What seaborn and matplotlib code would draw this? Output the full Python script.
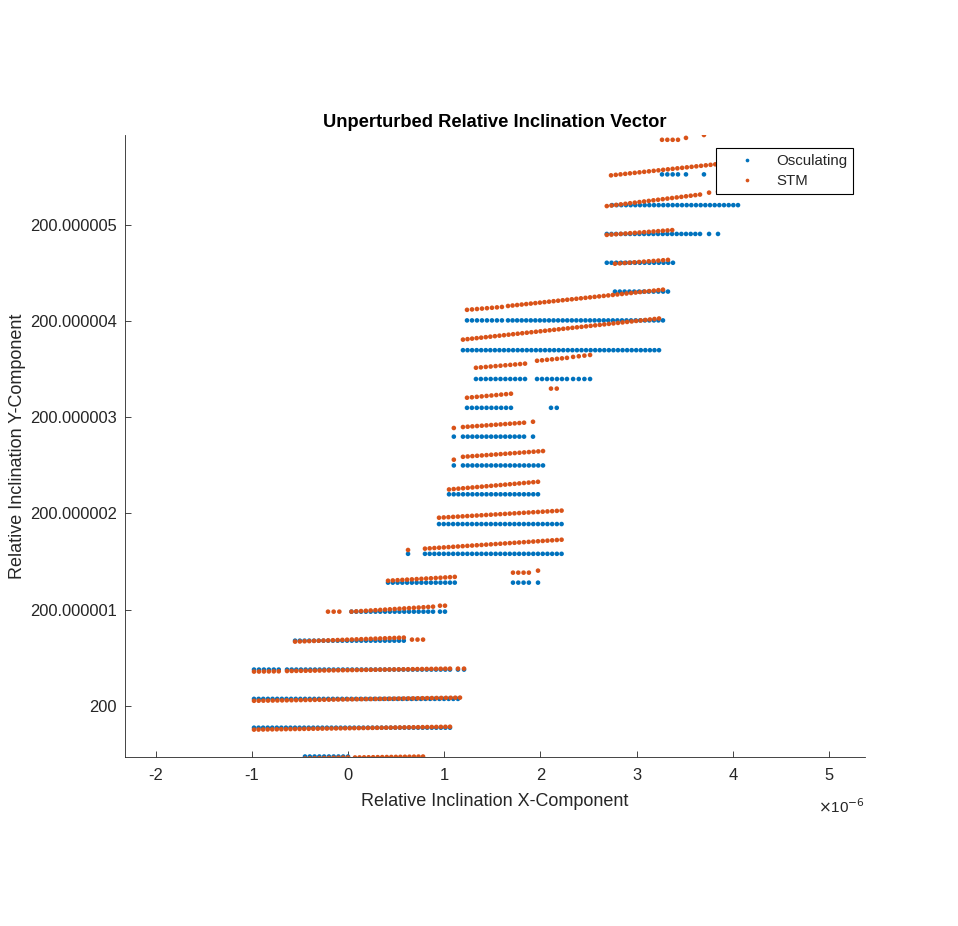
import numpy as np
import pandas as pd
import matplotlib
matplotlib.use("Agg")
import matplotlib.pyplot as plt
import seaborn as sns

# units: x in 1e-6, y as offset from 200 in 1e-6
# Osculating rows: start x, end x, level y, number of samples
osc_x0 = [-0.447, -0.977, -0.977, -0.977, -0.634, 1.143, -0.55, 0.036, 0.956, 0.416,
          1.715, 1.975, 0.624, 0.80, 0.946, 1.05, 1.10, 1.195, 1.10, 1.195,
          1.923, 1.237, 2.11, 1.33, 1.965, 2.34, 1.195, 1.237, 1.663, 2.775,
          2.69, 2.69, 3.753, 2.744, 3.264, 3.513, 3.70]
osc_x1 = [0.0, 1.06, 1.143, -0.72, 1.06, 1.206, 0.58, 0.884, 1.008, 1.11,
          1.88, 1.975, 0.624, 2.22, 2.22, 1.975, 1.10, 2.027, 1.10, 1.83,
          1.923, 1.694, 2.17, 1.84, 2.276, 2.516, 3.233, 1.60, 3.274, 3.326,
          3.378, 3.659, 3.846, 4.054, 3.43, 3.513, 3.70]
osc_y = [-0.53, -0.23, 0.07, 0.375, 0.375, 0.375, 0.676, 0.978, 0.978, 1.28,
         1.28, 1.28, 1.58, 1.58, 1.89, 2.20, 2.50, 2.50, 2.80, 2.80,
         2.80, 3.10, 3.10, 3.40, 3.40, 3.40, 3.70, 4.01, 4.01, 4.31,
         4.61, 4.91, 4.91, 5.21, 5.53, 5.53, 5.53]
osc_n = [10, 44, 45, 6, 36, 2, 24, 18, 2, 15,
         4, 1, 1, 30, 27, 20, 1, 18, 1, 14,
         1, 10, 2, 11, 7, 4, 44, 8, 35, 12,
         15, 21, 2, 28, 4, 1, 1]

# STM rows: start/end x, start/end y, number of samples
stm_x0 = [-0.447, 0.073, -0.977, -0.977, -0.977, -0.634, 1.143, -0.55, 0.665, -0.208,
          0.036, 0.956, 0.416, 1.715, 1.975, 0.624, 0.80, 0.946, 1.05, 1.10,
          1.195, 1.10, 1.195, 1.923, 1.237, 2.11, 1.33, 1.965, 2.34, 1.195,
          1.237, 1.663, 2.775, 2.69, 2.69, 3.753, 2.734, 3.264, 3.513, 3.70]
stm_x1 = [0.0, 0.78, 1.06, 1.164, -0.72, 1.06, 1.206, 0.58, 0.78, -0.09,
          0.884, 1.008, 1.11, 1.88, 1.975, 0.624, 2.22, 2.22, 1.975, 1.10,
          2.027, 1.10, 1.83, 1.923, 1.694, 2.17, 1.84, 2.276, 2.516, 3.233,
          1.60, 3.274, 3.326, 3.37, 3.659, 3.846, 3.867, 3.43, 3.513, 3.70]
stm_y0 = [-0.55, -0.54, -0.25, 0.05, 0.354, 0.36, 0.385, 0.666, 0.687, 0.978,
          0.978, 1.04, 1.30, 1.384, 1.405, 1.62, 1.634, 1.956, 2.25, 2.56,
          2.59, 2.89, 2.90, 2.955, 3.205, 3.30, 3.517, 3.59, 3.63, 3.81,
          4.12, 4.16, 4.60, 4.90, 5.20, 5.34, 5.52, 5.89, 5.91, 5.94]
stm_y1 = [-0.54, -0.53, -0.22, 0.083, 0.357, 0.385, 0.385, 0.708, 0.687, 0.978,
          1.03, 1.04, 1.34, 1.384, 1.405, 1.62, 1.727, 2.03, 2.33, 2.56,
          2.65, 2.89, 2.945, 2.955, 3.247, 3.30, 3.56, 3.62, 3.65, 4.03,
          4.15, 4.33, 4.64, 4.95, 5.32, 5.35, 5.64, 5.89, 5.91, 5.94]
stm_n = [10, 16, 44, 45, 6, 36, 2, 24, 3, 3,
         18, 2, 15, 4, 1, 1, 30, 27, 20, 1,
         18, 1, 14, 1, 10, 2, 11, 7, 4, 44,
         8, 35, 12, 15, 21, 2, 24, 4, 1, 1]

y_ticks = [0, 1, 2, 3, 4, 5]
y_tick_labels = ["200", "200.000001", "200.000002", "200.000003", "200.000004", "200.000005"]
x_ticks = [-2, -1, 0, 1, 2, 3, 4, 5]

rows = []
for x0, x1, y, n in zip(osc_x0, osc_x1, osc_y, osc_n):
    for xv in np.linspace(x0, x1, n):
        rows.append((xv, y, "Osculating"))
for x0, x1, y0, y1, n in zip(stm_x0, stm_x1, stm_y0, stm_y1, stm_n):
    for xv, yv in zip(np.linspace(x0, x1, n), np.linspace(y0, y1, n)):
        rows.append((xv, yv, "STM"))
df = pd.DataFrame(rows, columns=["x", "y", "series"])

sns.set_style("white")
plt.rcParams["font.family"] = ["Liberation Sans", "DejaVu Sans"]
dark = "#262626"

fig = plt.figure(figsize=(9.58, 9.26), dpi=100)
ax = fig.add_axes([125 / 958, 1 - 757 / 926, 740 / 958, 622 / 926])
sns.scatterplot(data=df, x="x", y="y", hue="series", hue_order=["Osculating", "STM"],
                palette={"Osculating": "#0072BD", "STM": "#D95319"},
                s=11, linewidth=0, ax=ax)

ax.set_xlim(-2.318, 5.374)
ax.set_ylim(-0.535, 5.94)
ax.set_xticks(x_ticks)
ax.set_xticklabels([str(v) for v in x_ticks])
ax.set_yticks(y_ticks)
ax.set_yticklabels(y_tick_labels)
ax.tick_params(bottom=True, left=True, direction="in", length=4, width=0.6,
               colors=dark, labelsize=11.9)
ax.tick_params(axis="x", pad=8)
ax.tick_params(axis="y", pad=6)
for side in ["top", "right"]:
    ax.spines[side].set_visible(False)
for side in ["left", "bottom"]:
    ax.spines[side].set_color(dark)
    ax.spines[side].set_linewidth(0.6)

ax.set_xlabel("Relative Inclination X-Component", fontsize=13, color=dark, labelpad=7)
ax.set_ylabel("Relative Inclination Y-Component", fontsize=13, color=dark, labelpad=3)
ax.set_title("Unperturbed Relative Inclination Vector", fontsize=13.2, fontweight="bold",
             color="black", pad=6)
ax.text(1.0, -0.08, r"$\times$10$^{-6}$", transform=ax.transAxes, ha="right", va="center",
        fontsize=11, color=dark)

handles, labels = ax.get_legend_handles_labels()
leg = ax.legend(handles, labels, loc="upper right", bbox_to_anchor=(0.984, 0.979),
                borderaxespad=0, fontsize=10.8, frameon=True, fancybox=False, framealpha=1,
                edgecolor="black", borderpad=0.4, handlelength=3.3, handletextpad=0.3,
                labelspacing=0.4, markerscale=0.8)
leg.get_frame().set_linewidth(0.8)

fig.savefig("out.png", dpi=100)
